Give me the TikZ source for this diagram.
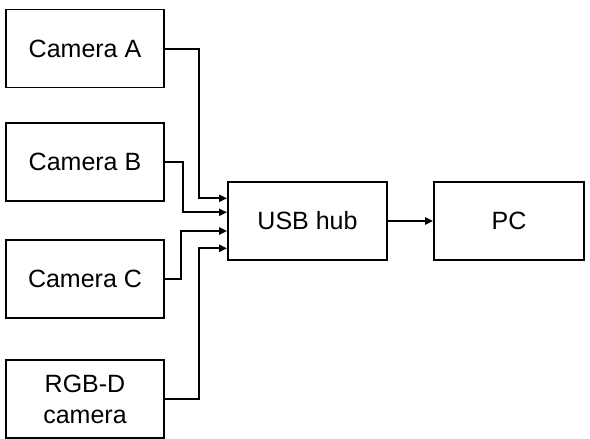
\documentclass[tikz,border=0pt]{standalone}
\usepackage{fontspec}
\setmainfont{Liberation Sans}
\usetikzlibrary{arrows.meta}
\begin{document}
\begin{tikzpicture}[x=1pt,y=-1pt,
  blk/.style={draw=black,line width=1.8pt,minimum height=78pt,inner sep=0pt,align=center,font=\fontsize{25}{31}\selectfont},
  conn/.style={draw=black,line width=2pt,-{Triangle[length=8pt,width=7pt]}}]
\useasboundingbox (0,0) rectangle (590,439);
\node[blk,minimum width=158pt] (A) at (85,48.5) {Camera A};
\node[blk,minimum width=158pt] (B) at (85,162) {Camera B};
\node[blk,minimum width=158pt] (C) at (85,279) {Camera C};
\node[blk,minimum width=158pt] (D) at (85,399) {RGB-D\\camera};
\node[blk,minimum width=159pt] (hub) at (307.5,221) {USB hub};
\node[blk,minimum width=150pt] (pc) at (509,221) {PC};
\draw[conn] (A.east) -- ++(34,0) |- ([yshift=22.7pt]hub.west);
\draw[conn] (B.east) -- ++(18.5,0) |- ([yshift=8.7pt]hub.west);
\draw[conn] (C.east) -- ++(16.5,0) |- ([yshift=-10pt]hub.west);
\draw[conn] (D.east) -- ++(34,0) |- ([yshift=-27.3pt]hub.west);
\draw[conn] (hub) -- (pc);
\end{tikzpicture}
\end{document}
